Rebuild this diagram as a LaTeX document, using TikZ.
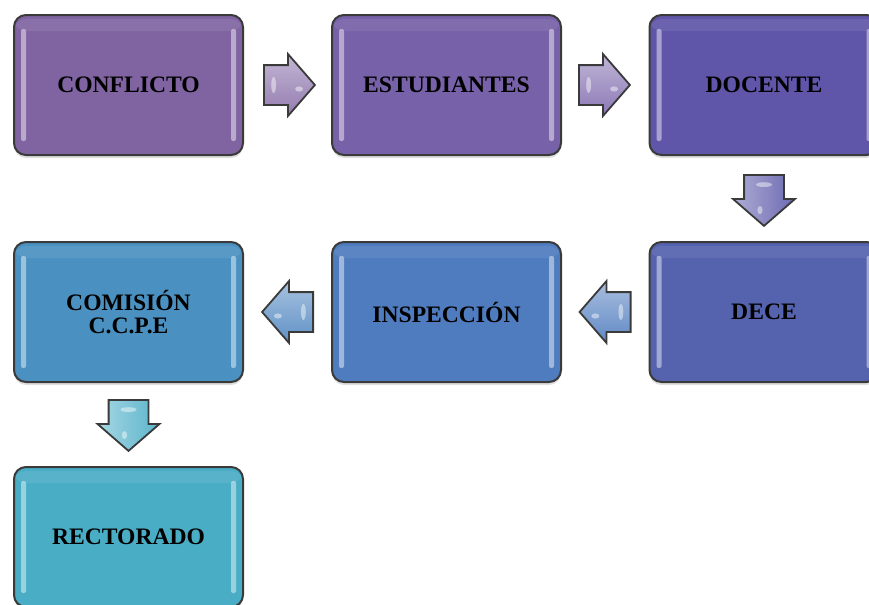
\documentclass[tikz,border=0pt]{standalone}
\usepackage{fontspec}
\setmainfont{Liberation Serif}
\usetikzlibrary{shapes.arrows,shadows,calc}
\definecolor{cA}{HTML}{8064A2}
\definecolor{cB}{HTML}{7761A8}
\definecolor{cC}{HTML}{6056A9}
\definecolor{cD}{HTML}{5562AE}
\definecolor{cE}{HTML}{4F7CBE}
\definecolor{cF}{HTML}{4A91C2}
\definecolor{cG}{HTML}{4AADC6}
\definecolor{edge}{HTML}{3A3A3A}
\tikzset{
  box/.style={draw=edge, line width=1pt, rounded corners=6pt,
    minimum width=114.5pt, minimum height=70pt, inner sep=2pt,
    align=center, font=\fontsize{11.8}{11.5}\selectfont\bfseries,
    drop shadow={opacity=0.25, shadow xshift=0pt, shadow yshift=-1.5pt},
    path picture={
      \fill[white,opacity=0.45,rounded corners=1pt]
        ([xshift=3.5pt,yshift=-7pt]path picture bounding box.north west)
        rectangle ([xshift=6pt,yshift=7pt]path picture bounding box.south west);
      \fill[white,opacity=0.45,rounded corners=1pt]
        ([xshift=-3.5pt,yshift=-7pt]path picture bounding box.north east)
        rectangle ([xshift=-6pt,yshift=7pt]path picture bounding box.south east);
      \fill[white,opacity=0.08]
        ([yshift=-2pt]path picture bounding box.north west)
        rectangle ([yshift=-8pt]path picture bounding box.north east);
    }},
  blk/.style={single arrow, draw=edge, line width=0.9pt, anchor=tail,
    minimum height=25.5pt, minimum width=30pt, single arrow head extend=5.5pt,
    single arrow tip angle=98},
  rblk/.style={blk, shape border rotate=0, inner xsep=0pt, inner ysep=9.5pt,
    top color=#1!55!white, bottom color=#1},
  lblk/.style={blk, shape border rotate=180, inner xsep=0pt, inner ysep=9.5pt,
    top color=#1!55!white, bottom color=#1},
  dblk/.style={blk, shape border rotate=270, inner ysep=0pt, inner xsep=9.5pt,
    left color=#1!55!white, right color=#1},
  gloss/.style={fill=white, opacity=0.45},
}
\begin{document}
\begin{tikzpicture}[x=0.5pt,y=-0.5pt]
\useasboundingbox[fill=white] (0,0) rectangle (869,605);
\begin{scope}
\clip (0,0) rectangle (869,605);
\node[box, fill=cA] (conf) at (128.5,85) {CONFLICTO};
\node[box, fill=cB] (est) at (446.5,85) {ESTUDIANTES};
\node[box, fill=cC] (doc) at (764,85) {DOCENTE};
\node[box, fill=cD] (dece) at (764,312) {DECE};
\node[box, fill=cE] (insp) at (446.5,312) {INSPECCIÓN};
\node[box, fill=cF] (com) at (128.5,312) {COMISIÓN\\C.C.P.E};
\node[box, fill=cG] (rect) at (128.5,537) {RECTORADO};
\node[rblk=cA!85!white] (a1) at ($(conf.east)+(19,0)$) {};
\node[rblk=cB!85!white] (a2) at ($(est.east)+(16,0)$) {};
\node[dblk=cC!75!cD!90!white] (a3) at ($(doc.south)+(0,18)$) {};
\node[lblk=cE!90!white] (a4) at ($(dece.west)+(-17,0)$) {};
\node[lblk=cE!60!cF!90!white] (a5) at ($(insp.west)+(-17,0)$) {};
\node[dblk=cG!90!white] (a6) at ($(com.south)+(0,16)$) {};
% small highlights on the block arrows
\foreach \a in {a1,a2,a4,a5}{
  \fill[gloss] ($(\a.tail)!0.2!(\a.tip)$) ellipse [x radius=1.2pt, y radius=4pt];
  \fill[gloss] ($(\a.tail)!0.68!(\a.tip)+(0,4)$) ellipse [x radius=2pt, y radius=1.3pt];
}
\foreach \a in {a3,a6}{
  \fill[gloss] ($(\a.tail)!0.2!(\a.tip)$) ellipse [x radius=4pt, y radius=1.2pt];
  \fill[gloss] ($(\a.tail)!0.68!(\a.tip)+(-4,0)$) ellipse [x radius=1.3pt, y radius=2pt];
}
\end{scope}
\end{tikzpicture}
\end{document}
